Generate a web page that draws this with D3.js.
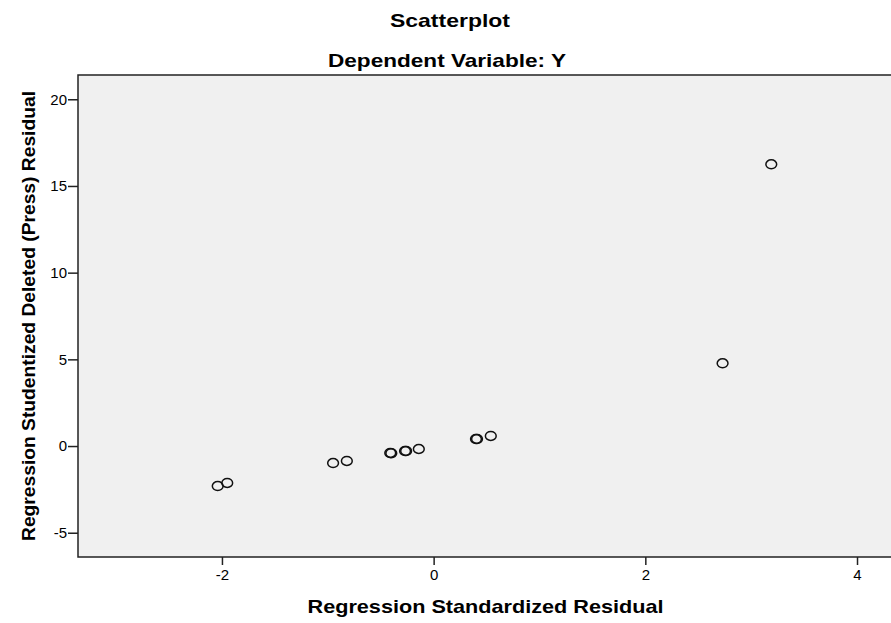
<!DOCTYPE html>
<html lang="en">
<head>
  <meta charset="utf-8">
  <title>Scatterplot</title>
  <script src="https://cdn.jsdelivr.net/npm/d3@7"></script>
  <style>
    body { margin: 0; background: #fff; }
    text { font-family: "Liberation Sans", Arial, sans-serif; fill: #000; }
  </style>
</head>
<body>
  <svg class="chart" width="891" height="623"></svg>
  <script>
    var width = 891, height = 623;
    var margin = { top: 75, right: -2, bottom: 66, left: 78 };

    // standardized residual (x) vs studentized deleted residual (y)
    var stdResid = [-2.04, -1.95, -0.95, -0.82, -0.41, -0.40, -0.27, -0.26, -0.14, 0.40, 0.41, 0.54, 2.73, 3.19];
    var delResid = [-2.31, -2.13, -0.98, -0.86, -0.40, -0.41, -0.29, -0.28, -0.17, 0.40, 0.41, 0.58, 4.77, 16.25];
    var xTicks = [-2, 0, 2, 4];
    var yTicks = [-5, 0, 5, 10, 15, 20];

    var data = stdResid.map(function(d, i) { return { x: d, y: delResid[i] }; });

    var svg = d3.select("svg.chart");
    var w = width - margin.left - margin.right,
        h = height - margin.top - margin.bottom;

    var x = d3.scaleLinear().domain([-3.36, 4.34]).range([0, w]);
    var y = d3.scaleLinear().domain([-6.4, 21.4]).range([h, 0]);

    var g = svg.append("g")
               .attr("transform", "translate(" + margin.left + "," + margin.top + ")");

    g.append("rect")
     .attr("width", w).attr("height", h)
     .attr("fill", "#f0f0f0")
     .attr("stroke", "#222")
     .attr("stroke-width", 1.5);

    var fmt = function(d) { return String(d); };  // plain hyphen, like the original

    var xAxis = g.append("g")
                 .attr("transform", "translate(0," + h + ")")
                 .call(d3.axisBottom(x).tickValues(xTicks).tickFormat(fmt).tickSize(8).tickPadding(4));
    var yAxis = g.append("g")
                 .call(d3.axisLeft(y).tickValues(yTicks).tickFormat(fmt).tickSize(10).tickPadding(1));

    [xAxis, yAxis].forEach(function(a) {
      a.select(".domain").remove();
      a.selectAll("line").attr("stroke", "#222").attr("stroke-width", 1.5);
      a.selectAll("text")
       .style("font-family", "'Liberation Sans', Arial, sans-serif")
       .style("font-size", "15px")
       .attr("fill", "#111");
    });

    g.selectAll("ellipse.pt")
     .data(data)
     .enter().append("ellipse")
     .attr("class", "pt")
     .attr("cx", function(d) { return x(d.x); })
     .attr("cy", function(d) { return y(d.y); })
     .attr("rx", 5.4)
     .attr("ry", 4.5)
     .attr("fill", "none")
     .attr("stroke", "#111")
     .attr("stroke-width", 1.5);

    function title(txt, len) {
      return svg.append("text")
                .attr("text-anchor", "middle")
                .attr("textLength", len)
                .attr("lengthAdjust", "spacingAndGlyphs")
                .style("font-weight", "bold").style("font-size", "19px")
                .text(txt);
    }

    title("Scatterplot", 120).attr("x", 450).attr("y", 27);
    title("Dependent Variable: Y", 238).attr("x", 447).attr("y", 67);
    title("Regression Standardized Residual", 356)
      .attr("x", margin.left + w / 2).attr("y", 613);
    title("Regression Studentized Deleted (Press) Residual", 450)
      .attr("transform", "translate(35," + (margin.top + h / 2) + ") rotate(-90)");
  </script>
</body>
</html>
